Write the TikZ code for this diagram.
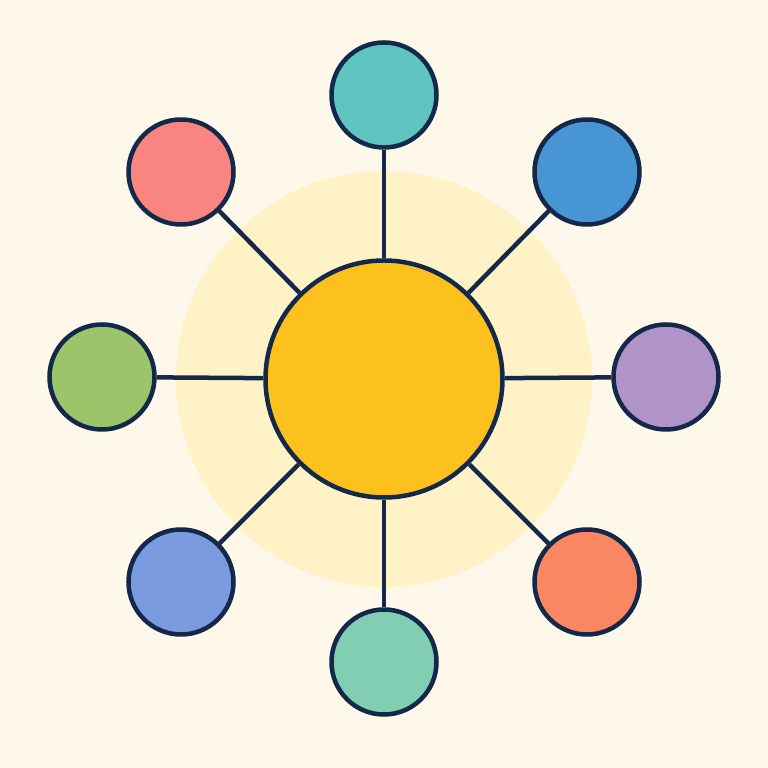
\documentclass[tikz,border=0pt]{standalone}
\usepackage{tikz}
\definecolor{bgcream}{HTML}{FDF8EA}
\definecolor{halo}{HTML}{FEF2C6}
\definecolor{ink}{HTML}{14284A}
\definecolor{sun}{HTML}{FDC11D}
\definecolor{cteal}{HTML}{5EC5C3}
\definecolor{cblue}{HTML}{4895D4}
\definecolor{cpurple}{HTML}{B093C9}
\definecolor{corange}{HTML}{FA8762}
\definecolor{cmint}{HTML}{82CEB2}
\definecolor{cperi}{HTML}{7B9BE0}
\definecolor{cgreen}{HTML}{9CC46B}
\definecolor{csalmon}{HTML}{F98580}
\tikzstyle{hub} = [draw=ink, fill=sun, line width=4.5pt, circle, minimum size=237pt, inner sep=0pt]
\tikzstyle{leaf} = [draw=ink, line width=4.5pt, circle, minimum size=105pt, inner sep=0pt]
\tikzstyle{spoke} = [draw=ink, line width=4.5pt]

\begin{document}
\begin{tikzpicture}[x=1pt,y=1pt]
\fill[bgcream] (0,0) rectangle (768,768);
\useasboundingbox (0,0) rectangle (768,768);
\fill[halo] (384,389) circle (208);
\node [hub] (core) at (384,389) {};
\node [leaf, fill=cteal] (top) at (384,673) {};
\node [leaf, fill=cblue] (topright) at (587,596) {};
\node [leaf, fill=cpurple] (right) at (666,391) {};
\node [leaf, fill=corange] (botright) at (587,186) {};
\node [leaf, fill=cmint] (bot) at (384,106) {};
\node [leaf, fill=cperi] (botleft) at (181,186) {};
\node [leaf, fill=cgreen] (left) at (102,391) {};
\node [leaf, fill=csalmon] (topleft) at (181,596) {};
\draw [spoke] (core) -- (top);
\draw [spoke] (core) -- (topright);
\draw [spoke] (core) -- (right);
\draw [spoke] (core) -- (botright);
\draw [spoke] (core) -- (bot);
\draw [spoke] (core) -- (botleft);
\draw [spoke] (core) -- (left);
\draw [spoke] (core) -- (topleft);
\end{tikzpicture}
\end{document}
